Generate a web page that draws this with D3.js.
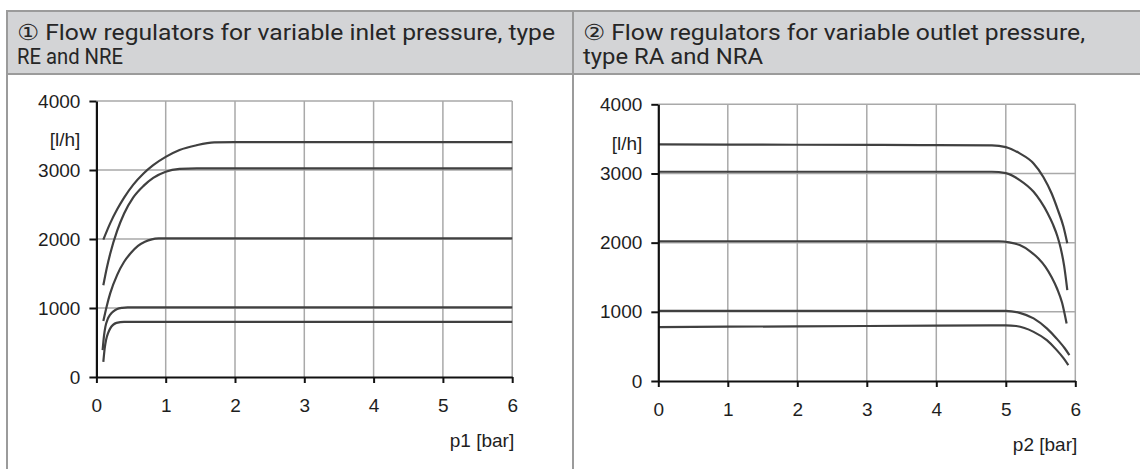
<!DOCTYPE html>
<html>
<head>
<meta charset="utf-8">
<script src="https://cdn.jsdelivr.net/npm/d3@7"></script>
<style>
  html, body { margin: 0; padding: 0; background: #fff; }
  svg { display: block; }
</style>
</head>
<body>
<div id="chart"></div>
<script>

// header texts
var titleLeft = ["\u2460 Flow regulators for variable inlet pressure, type", "RE and NRE"];
var titleRight = ["\u2461 Flow regulators for variable outlet pressure,", "type RA and NRA"];

// axes
var xTicks = [0, 1, 2, 3, 4, 5, 6];
var yTicks = [0, 1000, 2000, 3000, 4000];
var yUnit = "[l/h]";
var xLabelLeft = "p1 [bar]";
var xLabelRight = "p2 [bar]";

// curves: [pressure bar, flow l/h]
var inlet3400 = [[0.1, 1990], [0.2, 2230], [0.3, 2430], [0.4, 2600], [0.53, 2785], [0.68, 2950], [0.82, 3070], [1.0, 3190], [1.2, 3290], [1.45, 3360], [1.7, 3400], [2.0, 3405], [6, 3405]];
var inlet3000 = [[0.1, 1330], [0.15, 1580], [0.2, 1790], [0.3, 2120], [0.4, 2370], [0.53, 2600], [0.68, 2770], [0.82, 2885], [1.0, 2975], [1.2, 3015], [1.45, 3025], [6, 3025]];
var inlet2000 = [[0.1, 810], [0.15, 1030], [0.2, 1215], [0.3, 1480], [0.4, 1670], [0.5, 1800], [0.6, 1900], [0.7, 1960], [0.8, 1995], [0.9, 2008], [1.0, 2010], [6, 2010]];
var inlet1000 = [[0.09, 390], [0.11, 600], [0.13, 730], [0.16, 830], [0.2, 905], [0.25, 955], [0.3, 985], [0.37, 1003], [0.45, 1010], [6, 1010]];
var inlet800 = [[0.1, 220], [0.12, 420], [0.14, 540], [0.17, 640], [0.2, 705], [0.24, 755], [0.29, 785], [0.4, 800], [6, 800]];

var outlet3400 = [[0, 3420], [2, 3415], [4, 3410], [4.8, 3405], [5.0, 3380], [5.2, 3290], [5.4, 3145], [5.54, 2950], [5.66, 2710], [5.75, 2470], [5.83, 2230], [5.885, 1990]];
var outlet3000 = [[0, 3025], [4.8, 3025], [5.0, 3005], [5.2, 2905], [5.4, 2735], [5.5, 2600], [5.6, 2430], [5.68, 2260], [5.74, 2100], [5.79, 1920], [5.84, 1660], [5.885, 1315]];
var outlet2000 = [[0, 2020], [4.9, 2020], [5.05, 2005], [5.2, 1965], [5.35, 1875], [5.47, 1770], [5.57, 1650], [5.66, 1500], [5.74, 1330], [5.81, 1130], [5.875, 830]];
var outlet1000 = [[0, 1015], [5.0, 1015], [5.2, 985], [5.4, 905], [5.59, 760], [5.73, 615], [5.85, 470], [5.915, 375]];
var outlet800 = [[0, 780], [2, 790], [4, 800], [5.0, 805], [5.15, 795], [5.4, 710], [5.59, 590], [5.73, 450], [5.83, 330], [5.9, 230]];

var inletCurves = [inlet3400, inlet3000, inlet2000, inlet1000, inlet800];
var outletCurves = [outlet3400, outlet3000, outlet2000, outlet1000, outlet800];

var W = 1140, H = 469;

var svg = d3.select("#chart").append("svg")
  .attr("width", W)
  .attr("height", H);

// table header
var borderCol = "#9b9b9b";
svg.append("rect")
  .attr("x", 7).attr("y", 11)
  .attr("width", W - 7 + 5).attr("height", 63)
  .attr("fill", "#d3d4d6")
  .attr("stroke", borderCol)
  .attr("stroke-width", 2);

svg.append("line")
  .attr("x1", 7).attr("x2", 7)
  .attr("y1", 74).attr("y2", H)
  .attr("stroke", borderCol).attr("stroke-width", 2);

svg.append("line")
  .attr("x1", 573).attr("x2", 573)
  .attr("y1", 11).attr("y2", H)
  .attr("stroke", borderCol).attr("stroke-width", 2);

function headerText(lines, x, widths) {
  lines.forEach(function(s, i) {
    svg.append("text")
      .attr("x", x)
      .attr("y", 40 + i * 24)
      .attr("textLength", widths[i])
      .attr("lengthAdjust", "spacingAndGlyphs")
      .style("font-family", "Roboto, 'DejaVu Sans', sans-serif")
      .style("font-size", "22px")
      .style("fill", "#262626")
      .text(s);
  });
}

headerText(titleLeft, 17, [538, 106]);
headerText(titleRight, 583, [502, 180]);

// one chart panel
function drawChart(curves, xRange, yRange, xLabel) {

  var x = d3.scaleLinear().domain([0, 6]).range(xRange);
  var y = d3.scaleLinear().domain([0, 4000]).range(yRange);

  var g = svg.append("g");

  // grid
  g.selectAll(".vgrid")
    .data(xTicks.slice(1))
    .enter().append("line")
    .attr("x1", function(d) { return x(d); })
    .attr("x2", function(d) { return x(d); })
    .attr("y1", y(0)).attr("y2", y(4000))
    .attr("stroke", "#a9a9a9").attr("stroke-width", 1.5);

  g.selectAll(".hgrid")
    .data(yTicks.slice(1))
    .enter().append("line")
    .attr("x1", x(0)).attr("x2", x(6))
    .attr("y1", function(d) { return y(d); })
    .attr("y2", function(d) { return y(d); })
    .attr("stroke", "#a9a9a9").attr("stroke-width", 1.5);

  // curves
  var line = d3.line()
    .x(function(d) { return x(d[0]); })
    .y(function(d) { return y(d[1]); })
    .curve(d3.curveMonotoneX);

  g.selectAll(".curve")
    .data(curves)
    .enter().append("path")
    .attr("d", line)
    .attr("fill", "none")
    .attr("stroke", "#404040")
    .attr("stroke-width", 2.2);

  // axes
  var xAxis = g.append("g")
    .attr("transform", "translate(0," + y(0) + ")")
    .call(d3.axisBottom(x).tickValues(xTicks).tickFormat(d3.format("d"))
      .tickSize(6).tickPadding(16).tickSizeOuter(0));

  var yAxis = g.append("g")
    .attr("transform", "translate(" + x(0) + ",0)")
    .call(d3.axisLeft(y).tickValues(yTicks).tickFormat(d3.format("d"))
      .tickSize(7).tickPadding(9).tickSizeOuter(0));

  [xAxis, yAxis].forEach(function(a) {
    a.select(".domain").attr("stroke", "#111").attr("stroke-width", 2.2);
    a.selectAll(".tick line").attr("stroke", "#111").attr("stroke-width", 2);
    a.selectAll(".tick text")
      .style("font-family", "'Liberation Sans', Arial, sans-serif")
      .style("font-size", "19px")
      .style("fill", "#1e1e1e");
  });

  // unit labels
  g.append("text")
    .attr("x", x(0) - 16)
    .attr("y", y(3400) + 4)
    .attr("text-anchor", "end")
    .style("font-family", "'Liberation Sans', Arial, sans-serif")
    .style("font-size", "19px")
    .style("fill", "#1e1e1e")
    .text(yUnit);

  g.append("text")
    .attr("x", x(6) + 2)
    .attr("y", y(0) + 70)
    .attr("text-anchor", "end")
    .style("font-family", "'Liberation Sans', Arial, sans-serif")
    .style("font-size", "19px")
    .style("fill", "#1e1e1e")
    .text(xLabel);
}

drawChart(inletCurves, [96.4, 512.2], [377, 101], xLabelLeft);
drawChart(outletCurves, [658.3, 1075.3], [381, 104.3], xLabelRight);

</script>
</body>
</html>
